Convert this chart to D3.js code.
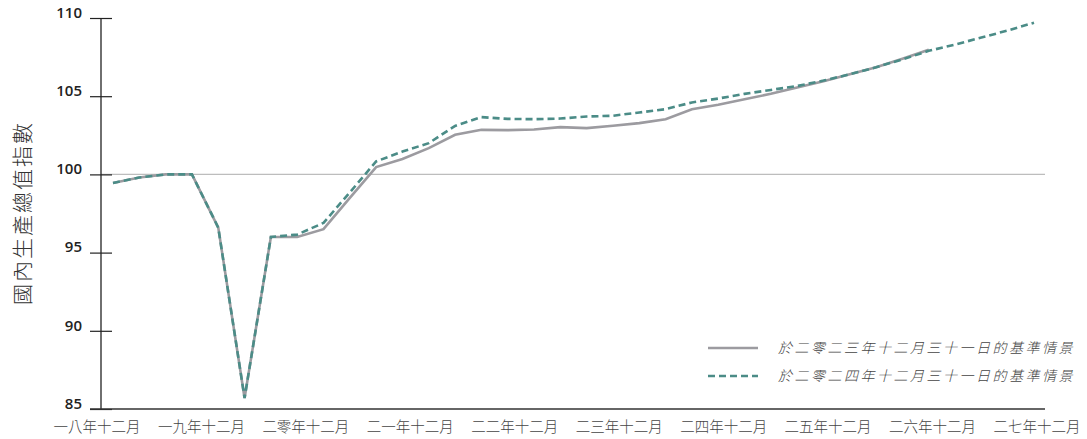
<!DOCTYPE html>
<html>
<head>
<meta charset="utf-8">
<script src="https://cdn.jsdelivr.net/npm/d3@7"></script>
<style>
  body { margin: 0; background: #fff; }
  svg text { font-family: "Noto Sans CJK TC", "Noto Sans CJK SC", sans-serif; }
</style>
</head>
<body>
<svg width="1087" height="439"></svg>
<script>
// quarterly index, first point = Q1 2019, last = Q4 2027
var yearLabels = ["一八年十二月", "一九年十二月", "二零年十二月", "二一年十二月", "二二年十二月",
                  "二三年十二月", "二四年十二月", "二五年十二月", "二六年十二月", "二七年十二月"];
var yTicks = [85, 90, 95, 100, 105, 110];

var scenario2023 = [99.45, 99.8, 100.0, 100.0, 96.6, 85.7, 96.0, 96.0, 96.5, 98.5,
                    100.47, 100.98, 101.68, 102.53, 102.85, 102.83, 102.87, 103.02, 102.96, 103.11,
                    103.28, 103.53, 104.17, 104.45, 104.8, 105.15, 105.55, 105.95, 106.4, 106.85,
                    107.4, 107.97];
var scenario2024 = [99.45, 99.8, 100.0, 100.0, 96.6, 85.7, 96.0, 96.15, 96.9, 98.85,
                    100.83, 101.46, 102.0, 103.1, 103.66, 103.55, 103.53, 103.57, 103.7, 103.75,
                    103.96, 104.17, 104.6, 104.85, 105.15, 105.4, 105.65, 106.0, 106.4, 106.85,
                    107.35, 107.9, 108.3, 108.75, 109.2, 109.7];

var legendNames = ["於二零二三年十二月三十一日的基準情景", "於二零二四年十二月三十一日的基準情景"];
var yTitle = "國內生產總值指數";

var svg = d3.select("svg");
var axisX = 101, plotTop = 18, plotBottom = 409, plotRight = 1045;

var x = d3.scaleLinear().domain([0, 35]).range([113, 1034]);
var xLab = d3.scalePoint().domain(yearLabels).range([97, 1037]);
var y = d3.scaleLinear().domain([85, 110]).range([plotBottom, plotTop]);

// reference line at 100
svg.append("line")
    .attr("x1", axisX).attr("x2", plotRight)
    .attr("y1", y(100)).attr("y2", y(100))
    .attr("stroke", "#bdbdbd").attr("stroke-width", 1.2);

// y axis, ticks cross the line
var yAxis = svg.append("g").attr("transform", "translate(" + (axisX + 11) + ",0)")
    .call(d3.axisLeft(y).tickValues(yTicks).tickSize(22).tickSizeOuter(0).tickPadding(8));
yAxis.select(".domain").remove();
yAxis.selectAll(".tick line").attr("stroke", "#222").attr("stroke-width", 1.2);
yAxis.selectAll(".tick text")
    .attr("font-size", 15).attr("font-weight", 600).attr("fill", "#222")
    .attr("dy", "-0.05em")
    .style("font-family", "'Open Sans', 'Noto Sans', sans-serif");

svg.append("line")
    .attr("x1", axisX).attr("x2", axisX).attr("y1", plotTop).attr("y2", plotBottom)
    .attr("stroke", "#222").attr("stroke-width", 1.3);

// x axis
svg.append("line")
    .attr("x1", 90).attr("x2", plotRight).attr("y1", plotBottom).attr("y2", plotBottom)
    .attr("stroke", "#333").attr("stroke-width", 1.5);

svg.selectAll(".xlab")
    .data(yearLabels)
    .enter()
    .append("text")
    .attr("class", "xlab")
    .attr("x", function(d) { return xLab(d); })
    .attr("y", 432)
    .attr("text-anchor", "middle")
    .attr("font-size", 14.5)
    .attr("font-weight", 300)
    .attr("fill", "#444")
    .text(function(d) { return d; });

// y title
svg.append("text")
    .attr("transform", "translate(30,213) rotate(-90)")
    .attr("text-anchor", "middle")
    .attr("font-size", 21)
    .attr("font-weight", 300)
    .attr("letter-spacing", 2)
    .attr("fill", "#333")
    .text(yTitle);

var line = d3.line()
    .x(function(d, i) { return x(i); })
    .y(function(d) { return y(d); });

svg.append("path")
    .datum(scenario2023)
    .attr("d", line)
    .attr("fill", "none")
    .attr("stroke", "#9c9ba0")
    .attr("stroke-width", 2.6);

svg.append("path")
    .datum(scenario2024)
    .attr("d", line)
    .attr("fill", "none")
    .attr("stroke", "#4b8c87")
    .attr("stroke-width", 2.6)
    .attr("stroke-dasharray", "7,4");

// legend
var legend = svg.selectAll(".legend")
    .data(legendNames)
    .enter()
    .append("g")
    .attr("transform", function(d, i) { return "translate(708," + (348 + i * 28) + ")"; });

legend.append("line")
    .attr("x1", 0).attr("x2", 50)
    .attr("stroke", function(d, i) { return i ? "#4b8c87" : "#9c9ba0"; })
    .attr("stroke-width", 2.6)
    .attr("stroke-dasharray", function(d, i) { return i ? "7,4" : null; });

legend.append("text")
    .attr("x", 70).attr("y", 5)
    .attr("font-size", 14)
    .attr("font-weight", 300)
    .attr("font-style", "italic")
    .attr("letter-spacing", 2.5)
    .attr("fill", "#444")
    .text(function(d) { return d; });
</script>
</body>
</html>
